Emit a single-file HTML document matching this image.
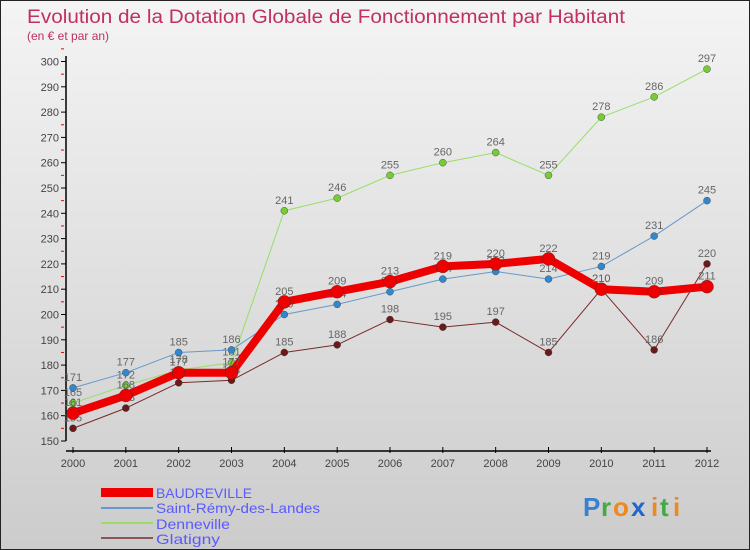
<!DOCTYPE html>
<html><head><meta charset="utf-8"><style>
body{margin:0}
#c{width:750px;height:550px;position:relative;background:linear-gradient(#f4f4f4,#cccccc);font-family:"Liberation Sans",sans-serif;border:1px solid #222;box-sizing:border-box;overflow:hidden}
</style></head><body>
<div id="c">
<svg id="s" width="750" height="550" style="position:absolute;left:0;top:0">
<text x="26" y="22" font-size="19" fill="#c03060" textLength="598" lengthAdjust="spacingAndGlyphs">Evolution de la Dotation Globale de Fonctionnement par Habitant</text>
<text x="26" y="39" font-size="12" fill="#c03060">(en € et par an)</text>
<g id="axes"></g><g id="series"></g>
<g>
<rect x="100" y="487" width="52" height="9" fill="#ee0000"/>
<text x="155" y="497" font-size="14" fill="#5a5aff" textLength="96" lengthAdjust="spacingAndGlyphs">BAUDREVILLE</text>
<rect x="100" y="506" width="52" height="2" fill="#6699cc"/>
<text x="155" y="512" font-size="14" fill="#5a5aff" textLength="164" lengthAdjust="spacingAndGlyphs">Saint-Rémy-des-Landes</text>
<rect x="100" y="521" width="52" height="2" fill="#99dd66"/>
<text x="155" y="528" font-size="14" fill="#5a5aff" textLength="74" lengthAdjust="spacingAndGlyphs">Denneville</text>
<rect x="100" y="536" width="52" height="2" fill="#8b5555"/>
<text x="155" y="543" font-size="14" fill="#5a5aff" textLength="64" lengthAdjust="spacingAndGlyphs">Glatigny</text>
</g>
<g font-size="26" font-weight="bold">
<text x="582" y="515" fill="#3a7fd0">P</text><text x="600" y="515" fill="#44aa44">r</text><text x="612" y="515" fill="#ee8822">o</text><text x="630" y="515" fill="#2266cc">x</text><text x="650" y="515" fill="#ee8822">i</text><text x="659" y="515" fill="#44aa44">t</text><text x="672" y="515" fill="#ee8822">i</text>
</g>
</svg>
</div>
<script>
const years=[2000,2001,2002,2003,2004,2005,2006,2007,2008,2009,2010,2011,2012];
const baudreville=[161,168,177,177,205,209,213,219,220,222,210,209,211];
const saintRemy=[171,177,185,186,200,204,209,214,217,214,219,231,245];
const denneville=[165,172,178,181,241,246,255,260,264,255,278,286,297];
const glatigny=[155,163,173,174,185,188,198,195,197,185,210,186,220];
const yTicks=[150,160,170,180,190,200,210,220,230,240,250,260,270,280,290,300];
const NS="http://www.w3.org/2000/svg";
const X=i=>72+i*(634/(years.length-1));
const Y=v=>440-(v-150)*2.53;
function mk(t,a,p){const e=document.createElementNS(NS,t);for(const k in a)e.setAttribute(k,a[k]);p.appendChild(e);return e;}
const ax=document.getElementById('axes');
const yl=mk('line',{x1:65,y1:55,x2:65,y2:440,stroke:'#000','stroke-width':1.5},ax);


const xl=mk('line',{x1:65,y1:450,x2:710,y2:450,stroke:'#000','stroke-width':1.5},ax);


yTicks.forEach(v=>{
  mk('line',{x1:60,y1:Y(v),x2:65,y2:Y(v),stroke:'#000'},ax);
  mk('line',{x1:60,y1:Y(v+5),x2:63,y2:Y(v+5),stroke:'#e00'},ax);
  const t=mk('text',{x:58,y:Y(v)+4,'font-size':11,fill:'#444','text-anchor':'end'},ax);
  t.textContent=v;
  
  
});
years.forEach((y,i)=>{
  mk('line',{x1:X(i),y1:446,x2:X(i),y2:452,stroke:'#000'},ax);
  const t=mk('text',{x:X(i),y:466,'font-size':11,fill:'#444','text-anchor':'middle'},ax);
  t.textContent=y;
  
  
});
const sg=document.getElementById('series');
const series=[
 {name:'glatigny',d:glatigny,c:'#7a2a2a',w:1,r:3.5,f:'#6a1a1a'},
 {name:'denneville',d:denneville,c:'#99dd66',w:1,r:3.5,f:'#77cc33'},
 {name:'saint-remy',d:saintRemy,c:'#6699cc',w:1,r:3.5,f:'#3388cc'},
 {name:'baudreville',d:baudreville,c:'#ee0000',w:8,r:6.5,f:'#ee0000'}];
series.forEach(s=>{
  const g=mk('g',{},sg);
  
  
  const l=mk('polyline',{points:s.d.map((v,i)=>X(i)+','+Y(v)).join(' '),fill:'none',stroke:s.c,'stroke-width':s.w,'stroke-linejoin':'round'},g);
  
  
  s.d.forEach((v,i)=>{
    const p=mk('circle',{cx:X(i),cy:Y(v),r:s.r,fill:s.f,stroke:'#333','stroke-width':0.4},g);
    
    
    const t=mk('text',{x:X(i),y:Y(v)-7,'font-size':11,fill:'#666','text-anchor':'middle'},g);
    t.textContent=v;
    
    
  });
});
</script>
</body></html>
